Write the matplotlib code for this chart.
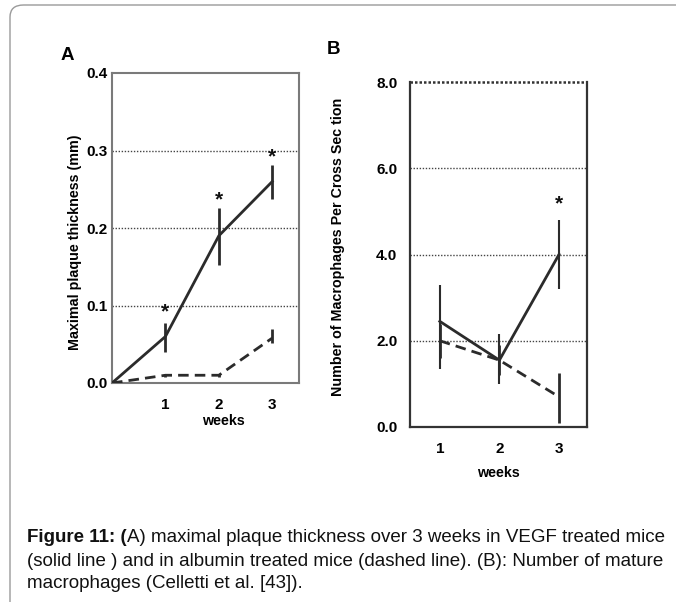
import matplotlib
matplotlib.use("Agg")
import matplotlib.pyplot as plt
from matplotlib.patches import FancyBboxPatch

plt.rcParams['font.family'] = ['Liberation Sans', 'DejaVu Sans']

# ---- data ----
weeks_a = [0, 1, 2, 3]
vegf_a = [0.0, 0.06, 0.19, 0.26]
vegf_a_lo = [0.0, 0.04, 0.152, 0.238]
vegf_a_hi = [0.0, 0.078, 0.226, 0.281]
alb_a = [0.0, 0.01, 0.01, 0.058]
alb_a_lo = [0.0, 0.008, 0.008, 0.052]
alb_a_hi = [0.0, 0.012, 0.012, 0.07]
star_a_x = [1, 2, 3]
star_a_y = [0.079, 0.224, 0.28]
yticks_a = [0.0, 0.1, 0.2, 0.3, 0.4]
yticklabels_a = ['0.0', '0.1', '0.2', '0.3', '0.4']

weeks_b = [1, 2, 3]
vegf_b = [2.45, 1.55, 4.0]
vegf_b_lo = [1.35, 1.0, 3.2]
vegf_b_hi = [3.3, 2.15, 4.8]
alb_b = [2.0, 1.55, 0.7]
alb_b_lo = [1.6, 1.2, 0.1]
alb_b_hi = [2.4, 1.9, 1.25]
star_b_x = [3]
star_b_y = [4.95]
yticks_b = [0.0, 2.0, 4.0, 6.0, 8.0]
yticklabels_b = ['0.0', '2.0', '4.0', '6.0', '8.0']
xticks = [1, 2, 3]

W, H = 676, 602
fig = plt.figure(figsize=(W / 100, H / 100), dpi=100)

def fx(px):
    return px / W

def fy(py):
    return 1 - py / H

# outer rounded frame
frame = FancyBboxPatch((fx(10), fy(640)), fx(700), fy(5) - fy(640),
                       boxstyle="round,pad=0,rounding_size=0.02",
                       transform=fig.transFigure, fill=False,
                       edgecolor='#9a9a9a', linewidth=1.0)
fig.patches.append(frame)

line_c = '#2b2b2b'
grid_c = '#444444'
tick_fs = 11
lab_fs = 10.3
dash = (0, (3.8, 2.2))

# ---- panel A ----
axA = fig.add_axes([fx(112), fy(383), fx(299) - fx(112), fy(73) - fy(383)])
axA.set_xlim(0, 3.5)
axA.set_ylim(0, 0.4)
for s in axA.spines.values():
    s.set_color('#7a7a7a')
    s.set_linewidth(1.5)
for y in [0.1, 0.2, 0.3]:
    axA.axhline(y, color=grid_c, linestyle=(0, (1, 1.2)), linewidth=1.0, zorder=1)
axA.plot(weeks_a, vegf_a, color=line_c, lw=2.0, zorder=3)
axA.plot(weeks_a, alb_a, color=line_c, lw=2.0, linestyle=dash, zorder=3)
axA.vlines(weeks_a[1:], vegf_a_lo[1:], vegf_a_hi[1:], color=line_c, lw=2.0, zorder=3)
axA.vlines(weeks_a[1:], alb_a_lo[1:], alb_a_hi[1:], color=line_c, lw=2.0, zorder=3)
for x, y in zip(star_a_x, star_a_y):
    axA.text(x, y, '*', ha='center', va='bottom', fontsize=15, fontweight='bold', color='#111')
axA.set_xticks(xticks)
axA.set_xticklabels([str(t) for t in xticks], fontsize=tick_fs, fontweight='bold')
axA.set_yticks(yticks_a)
axA.set_yticklabels(yticklabels_a, fontsize=tick_fs, fontweight='bold')
axA.tick_params(axis='both', length=0)
axA.tick_params(axis='x', pad=11)
axA.tick_params(axis='y', pad=3)
fig.text(fx(223), fy(421), 'weeks', ha='center', va='center', fontsize=lab_fs, fontweight='bold')

fig.text(fx(75), fy(242), 'Maximal plaque thickness (mm)', rotation=90,
         ha='center', va='center', fontsize=lab_fs, fontweight='bold')
fig.text(fx(67), fy(56), 'A', ha='center', va='center', fontsize=13.5, fontweight='bold')

# ---- panel B ----
axB = fig.add_axes([fx(410), fy(427), fx(587) - fx(410), fy(82) - fy(427)])
axB.set_xlim(0.5, 3.47)
axB.set_ylim(0, 8)
for k, s in axB.spines.items():
    s.set_color('#333333')
    s.set_linewidth(1.6)
axB.spines['top'].set_visible(False)
for y in [2.0, 4.0, 6.0]:
    axB.axhline(y, color=grid_c, linestyle=(0, (1, 1.2)), linewidth=1.0, zorder=1)
axB.axhline(8.0, color='#333333', linestyle=(0, (1, 0.8)), linewidth=1.8, zorder=1, clip_on=False)
axB.plot(weeks_b, vegf_b, color=line_c, lw=2.0, zorder=3)
axB.plot(weeks_b, alb_b, color=line_c, lw=2.0, linestyle=dash, zorder=3)
axB.vlines(weeks_b, vegf_b_lo, vegf_b_hi, color=line_c, lw=1.5, zorder=3)
axB.vlines(weeks_b, alb_b_lo, alb_b_hi, color=line_c, lw=2.0, zorder=3)
for x, y in zip(star_b_x, star_b_y):
    axB.text(x, y, '*', ha='center', va='bottom', fontsize=15, fontweight='bold', color='#111')
axB.set_xticks(xticks)
axB.set_xticklabels([str(t) for t in xticks], fontsize=tick_fs, fontweight='bold')
axB.set_yticks(yticks_b)
axB.set_yticklabels(yticklabels_b, fontsize=tick_fs, fontweight='bold')
axB.tick_params(axis='both', length=0)
axB.tick_params(axis='x', pad=11)
axB.tick_params(axis='y', pad=9)
fig.text(fx(498), fy(473), 'weeks', ha='center', va='center', fontsize=lab_fs, fontweight='bold')

fig.text(fx(338), fy(247), 'Number of Macrophages Per Cross Sec tion', rotation=90,
         ha='center', va='center', fontsize=lab_fs, fontweight='bold')
fig.text(fx(333), fy(49), 'B', ha='center', va='center', fontsize=13.5, fontweight='bold')

# ---- caption ----
cap_size = 13.5
fig.canvas.draw()
renderer = fig.canvas.get_renderer()
t_bold = fig.text(fx(27), fy(538), 'Figure 11: (', ha='left', va='center',
                  fontsize=cap_size, fontweight='bold', color='#111')
bb = t_bold.get_window_extent(renderer=renderer)
fig.text(bb.x1 / W, fy(538), 'A) maximal plaque thickness over 3 weeks in VEGF treated mice',
         ha='left', va='center', fontsize=cap_size, color='#111')
fig.text(fx(27), fy(561), '(solid line ) and in albumin treated mice (dashed line). (B): Number of mature',
         ha='left', va='center', fontsize=cap_size, color='#111')
fig.text(fx(27), fy(583), 'macrophages (Celletti et al. [43]).',
         ha='left', va='center', fontsize=cap_size, color='#111')

fig.savefig('out.png', dpi=100)
